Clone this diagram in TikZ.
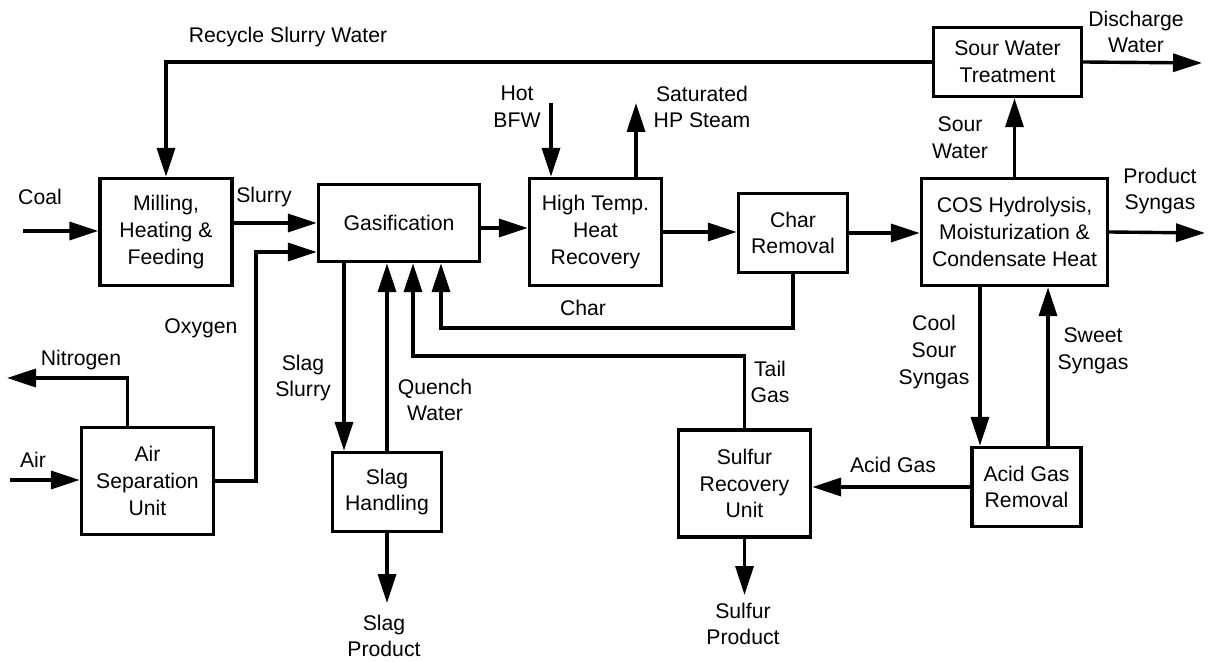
\documentclass[tikz,border=0pt]{standalone}
\usepackage{fontspec}
\setmainfont{Liberation Sans}
\usetikzlibrary{positioning}
\usetikzlibrary{arrows.meta}

\begin{document}
\begin{tikzpicture}[
    x=0.5pt, y=-0.5pt,
    unit/.style={
        draw, line width=1.7pt, align=center, inner sep=0pt,
        font=\fontsize{10.6}{13.3}\selectfont
    },
    bigunit/.style={unit, minimum width=66pt, minimum height=53.5pt},
    smallunit/.style={unit, minimum width=54.5pt, minimum height=39.5pt},
    flow/.style={-{Triangle[length=14.5pt,width=9pt]}, line width=1.7pt},
    lbl/.style={align=center, inner sep=0pt, font=\fontsize{10.6}{13.3}\selectfont},
]
\useasboundingbox (0,0) rectangle (1215,662);

% Units
\node[bigunit] (mill) at (166,232) {Milling,\\Heating \&\\Feeding};
\node[unit, minimum width=80.5pt, minimum height=38.5pt] (gas) at (399,223) {Gasification};
\node[bigunit] (hthr) at (595.5,232) {High Temp.\\Heat\\Recovery};
\node[smallunit] (char) at (793,233) {Char\\Removal};
\node[unit, minimum width=93pt, minimum height=53.5pt] (cos) at (1014.5,232)
    {COS Hydrolysis,\\Moisturization \&\\Condensate Heat};
\node[unit, minimum width=74pt, minimum height=34.5pt] (swt) at (1007.5,62)
    {Sour Water\\Treatment};
\node[bigunit] (asu) at (147.5,481) {Air\\Separation\\Unit};
\node[smallunit] (slag) at (387,492) {Slag\\Handling};
\node[bigunit] (sru) at (744.5,483.5) {Sulfur\\Recovery\\Unit};
\node[smallunit] (agr) at (1026.5,487) {Acid Gas\\Removal};

% Free ends and bends
\coordinate (coalin) at (23,231);
\coordinate (airin) at (10,480);
\coordinate (n2out) at (7,378);
\coordinate (oxybend) at (256,252);
\coordinate (gasout) at ([yshift=-2.5pt]gas.east);
\coordinate (bfwin) at (551,103);
\coordinate (steamout) at (636,103);
\coordinate (prodout) at (1205,233);
\coordinate (dischout) at (1202,63);
\coordinate (charin) at (441,328);
\coordinate (tailin) at (413,356);
\coordinate (sslx) at (344,0);
\coordinate (slagprod) at (387,603);
\coordinate (sulfprod) at (744.5,595);
\coordinate (csx) at (980,0);
\coordinate (swx) at (1048,0);

% Feeds
\draw[flow] (coalin) -- (coalin -| mill.west);
\draw[flow] (airin) -- (airin -| asu.west);
\draw[flow] ([xshift=-10pt]asu.north) |- (n2out);
\draw[flow] (asu.east) -| (oxybend) -- (oxybend -| gas.west);
\draw[flow] (mill.east |- gas.west) -- (gas.west);
\draw[flow] (swt.west) -| (mill.north);

% Main gas line
\draw[flow] (gasout) -- (gasout -| hthr.west);
\draw[flow] (bfwin) -- (bfwin |- hthr.north);
\draw[flow] (steamout |- hthr.north) -- (steamout);
\draw[flow] (hthr.east) -- (hthr.east -| char.west);
\draw[flow] (char.east) -- (char.east -| cos.west);
\draw[flow] (cos.east) -- (prodout);
\draw[flow] (cos.north) -- (cos.north |- swt.south);
\draw[flow] (swt.east) -- (dischout);

% Returns to the gasifier
\draw[flow] (char.south) |- (charin) -- (charin |- gas.south);
\draw[flow] (sru.north) |- (tailin) -- (tailin |- gas.south);
\draw[flow] (sslx |- gas.south) -- (sslx |- slag.north);
\draw[flow] (slag.north) -- (slag.north |- gas.south);

% Products and gas cleanup
\draw[flow] (slag.south) -- (slagprod);
\draw[flow] (sru.south) -- (sulfprod);
\draw[flow] (agr.west) -- (agr.west -| sru.east);
\draw[flow] (csx |- cos.south) -- (csx |- agr.north);
\draw[flow] (swx |- agr.north) -- (swx |- cos.south);

% Stream labels
\node[lbl] (lrecycle) at (288,37) {Recycle Slurry Water};
\node[lbl] (lcoal) at (40,197) {Coal};
\node[lbl] (lslurry) at (264,197) {Slurry};
\node[lbl] (loxygen) at (201,328) {Oxygen};
\node[lbl] (lnitrogen) at (81,360) {Nitrogen};
\node[lbl] (lair) at (33,460) {Air};
\node[lbl] (lbfw) at (517,107) {Hot\\BFW};
\node[lbl] (lsteam) at (702,107) {Saturated\\HP Steam};
\node[lbl] (lchar) at (583,308) {Char};
\node[lbl] (lslagsl) at (303,378) {Slag\\Slurry};
\node[lbl] (lquench) at (435,400) {Quench\\Water};
\node[lbl] (lslagpr) at (384,636) {Slag\\Product};
\node[lbl] (ltail) at (770,382) {Tail\\Gas};
\node[lbl] (lsulfpr) at (743,624) {Sulfur\\Product};
\node[lbl] (lacid) at (893,465) {Acid Gas};
\node[lbl] (lcool) at (934,352) {Cool\\Sour\\Syngas};
\node[lbl] (lsweet) at (1093,351) {Sweet\\Syngas};
\node[lbl] (lsour) at (960,138) {Sour\\Water};
\node[lbl] (lprod) at (1160,191) {Product\\Syngas};
\node[lbl] (ldisch) at (1136,32) {Discharge\\Water};

\end{tikzpicture}
\end{document}
